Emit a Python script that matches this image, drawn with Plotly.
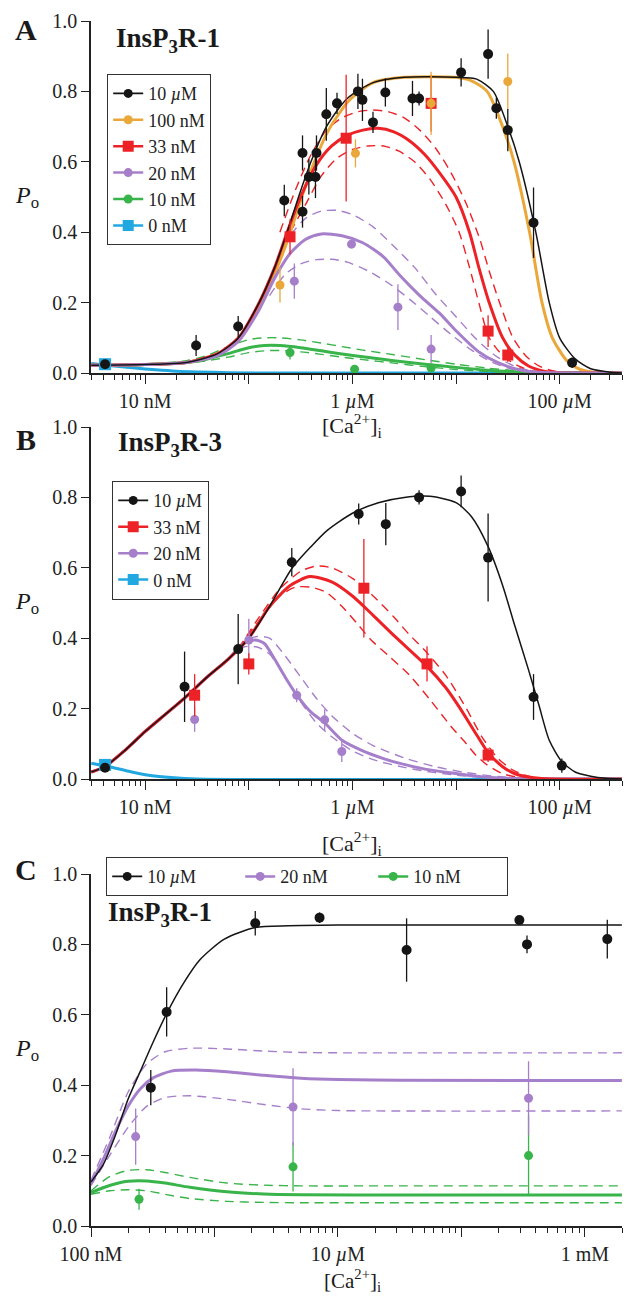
import plotly.graph_objects as go

SERIF = "Liberation Serif, Times New Roman, serif"
BLACK = "#151515"
ORANGE = "#eba83a"
RED = "#ec2227"
PURPLE = "#a67fcb"
GREEN = "#38b44a"
CYAN = "#21a8e1"

# ---------------- Panel A : InsP3R-1 ----------------
# measured points, [Ca2+]i in uM
a_10uM_ca = [0.0041, 0.031, 0.079, 0.22, 0.33, 0.33, 0.38, 0.44, 0.45, 0.56, 0.71, 1.13, 1.25, 1.58, 2.08, 3.8, 4.4, 11.2, 20.4, 24.5, 31.6, 56, 132]
a_10uM_po = [0.025, 0.078, 0.132, 0.49, 0.458, 0.625, 0.557, 0.557, 0.625, 0.735, 0.766, 0.80, 0.776, 0.712, 0.797, 0.78, 0.78, 0.854, 0.906, 0.752, 0.69, 0.427, 0.029]
a_10uM_err = [0.01, 0.03, 0.03, 0.045, 0.045, 0.05, 0.05, 0.06, 0.05, 0.075, 0.03, 0.05, 0.06, 0.03, 0.04, 0.05, 0.02, 0.04, 0.07, 0.03, 0.06, 0.1, 0.015]

a_100nM_ca = [0.2, 1.07, 5.75, 31.6]
a_100nM_po = [0.25, 0.624, 0.766, 0.828]
a_100nM_err = [0.05, 0.04, 0.09, 0.08]

a_33nM_ca = [0.25, 0.87, 5.75, 20.4, 31.6]
a_33nM_po = [0.387, 0.667, 0.766, 0.119, 0.051]
a_33nM_err = [0.05, 0.18, 0.08, 0.045, 0.02]

a_20nM_ca = [0.275, 0.98, 2.75, 5.75]
a_20nM_po = [0.261, 0.366, 0.187, 0.068]
a_20nM_err = [0.05, 0.01, 0.065, 0.04]

a_10nM_ca = [0.25, 1.05, 5.75]
a_10nM_po = [0.058, 0.011, 0.014]
a_10nM_err = [0.02, 0.005, 0.005]

a_0nM_ca = [0.0041]
a_0nM_po = [0.025]
a_0nM_err = [0.006]

# fitted curves, log10 [Ca2+] (M)
a_fit_10uM_lx = [-8.52, -8.0, -7.6, -7.3, -7.1, -6.9, -6.75, -6.63, -6.52, -6.4, -6.25, -6.05, -5.8, -5.5, -5.0, -4.8, -4.64, -4.5, -4.39, -4.23, -4.1, -4.0, -3.85, -3.7, -3.5, -3.4]
a_fit_10uM_po = [0.022, 0.024, 0.03, 0.055, 0.1, 0.2, 0.3, 0.4, 0.5, 0.6, 0.7, 0.78, 0.825, 0.84, 0.84, 0.835, 0.80, 0.70, 0.60, 0.40, 0.20, 0.10, 0.04, 0.012, 0.002, 0.0]

a_fit_100nM_lx = [-8.52, -8.0, -7.6, -7.3, -7.1, -6.9, -6.74, -6.61, -6.5, -6.38, -6.23, -6.03, -5.8, -5.5, -5.0, -4.85, -4.7, -4.55, -4.44, -4.29, -4.17, -4.07, -3.93, -3.8, -3.6, -3.4]
a_fit_100nM_po = [0.022, 0.024, 0.03, 0.052, 0.095, 0.19, 0.29, 0.39, 0.49, 0.59, 0.69, 0.775, 0.825, 0.84, 0.84, 0.83, 0.80, 0.70, 0.60, 0.40, 0.20, 0.10, 0.035, 0.01, 0.0, 0.0]

a_fit_33nM_lx = [-8.52, -8.0, -7.6, -7.3, -7.1, -6.9, -6.75, -6.63, -6.5, -6.35, -6.2, -6.05, -5.9, -5.75, -5.6, -5.45, -5.3, -5.15, -5.0, -4.87, -4.78, -4.68, -4.55, -4.43, -4.3, -4.15, -4.0, -3.4]
a_fit_33nM_po = [0.022, 0.024, 0.03, 0.055, 0.1, 0.2, 0.3, 0.4, 0.5, 0.59, 0.645, 0.675, 0.69, 0.695, 0.685, 0.66, 0.62, 0.565, 0.5, 0.4, 0.3, 0.2, 0.1, 0.05, 0.02, 0.005, 0.001, 0.0]
a_fit_33nM_hi_lx = [-6.7, -6.55, -6.4, -6.25, -6.1, -5.95, -5.8, -5.65, -5.5, -5.35, -5.2, -5.05, -4.9, -4.77, -4.68, -4.58, -4.45, -4.33, -4.2, -4.05, -3.4]
a_fit_33nM_hi_po = [0.4, 0.52, 0.62, 0.69, 0.725, 0.742, 0.747, 0.742, 0.725, 0.69, 0.64, 0.57, 0.48, 0.38, 0.29, 0.2, 0.1, 0.05, 0.02, 0.005, 0.0]
a_fit_33nM_lo_lx = [-6.6, -6.45, -6.3, -6.15, -6.0, -5.85, -5.7, -5.55, -5.4, -5.25, -5.1, -4.97, -4.87, -4.78, -4.68, -4.55, -4.4, -4.25, -4.1, -3.4]
a_fit_33nM_lo_po = [0.4, 0.48, 0.56, 0.61, 0.635, 0.645, 0.645, 0.63, 0.6, 0.55, 0.48, 0.4, 0.3, 0.2, 0.1, 0.05, 0.02, 0.005, 0.001, 0.0]

a_fit_20nM_lx = [-8.52, -8.0, -7.6, -7.3, -7.1, -6.9, -6.75, -6.6, -6.45, -6.3, -6.1, -5.9, -5.7, -5.55, -5.35, -5.16, -5.0, -4.78, -4.6, -4.4, -4.2, -3.4]
a_fit_20nM_po = [0.022, 0.024, 0.03, 0.05, 0.09, 0.18, 0.27, 0.34, 0.38, 0.395, 0.39, 0.37, 0.33, 0.28, 0.22, 0.17, 0.12, 0.06, 0.03, 0.01, 0.002, 0.0]
a_fit_20nM_hi_lx = [-6.9, -6.75, -6.6, -6.45, -6.3, -6.15, -6.0, -5.8, -5.6, -5.4, -5.2, -5.0, -4.8, -4.6, -4.4, -4.2, -3.4]
a_fit_20nM_hi_po = [0.2, 0.3, 0.39, 0.44, 0.46, 0.462, 0.45, 0.415, 0.36, 0.3, 0.225, 0.16, 0.095, 0.045, 0.015, 0.003, 0.0]
a_fit_20nM_lo_lx = [-6.8, -6.65, -6.5, -6.35, -6.2, -6.05, -5.85, -5.65, -5.45, -5.25, -5.05, -4.85, -4.65, -4.45, -4.25, -3.4]
a_fit_20nM_lo_po = [0.22, 0.28, 0.31, 0.322, 0.323, 0.315, 0.29, 0.255, 0.21, 0.16, 0.11, 0.065, 0.03, 0.01, 0.002, 0.0]

a_fit_10nM_lx = [-8.52, -8.0, -7.6, -7.4, -7.2, -7.0, -6.85, -6.7, -6.5, -6.3, -6.1, -5.9, -5.6, -5.3, -5.0, -4.7, -4.4, -4.1, -3.4]
a_fit_10nM_po = [0.022, 0.024, 0.03, 0.04, 0.055, 0.072, 0.078, 0.078, 0.072, 0.063, 0.054, 0.046, 0.035, 0.025, 0.016, 0.008, 0.003, 0.001, 0.0]
a_fit_10nM_hi_po = [0.022, 0.025, 0.035, 0.05, 0.075, 0.095, 0.1, 0.1, 0.094, 0.085, 0.075, 0.065, 0.052, 0.038, 0.025, 0.014, 0.006, 0.002, 0.0]
a_fit_10nM_lo_po = [0.022, 0.023, 0.028, 0.035, 0.045, 0.058, 0.063, 0.064, 0.06, 0.053, 0.045, 0.038, 0.028, 0.018, 0.01, 0.004, 0.001, 0.0, 0.0]

a_fit_0nM_lx = [-8.52, -8.3, -8.1, -7.9, -7.7, -7.5, -7.2, -6.8, -3.4]
a_fit_0nM_po = [0.027, 0.02, 0.014, 0.009, 0.005, 0.003, 0.001, 0.0, 0.0]

# ---------------- Panel B : InsP3R-3 ----------------
b_10uM_ca = [0.0041, 0.024, 0.079, 0.26, 1.15, 2.1, 4.4, 11.2, 20.4, 56, 105]
b_10uM_po = [0.032, 0.262, 0.369, 0.616, 0.753, 0.724, 0.80, 0.817, 0.629, 0.233, 0.038]
b_10uM_err = [0.01, 0.1, 0.1, 0.04, 0.03, 0.06, 0.02, 0.045, 0.125, 0.065, 0.02]

b_33nM_ca = [0.030, 0.1, 1.29, 5.25, 20.4]
b_33nM_po = [0.238, 0.327, 0.542, 0.327, 0.068]
b_33nM_err = [0.06, 0.03, 0.14, 0.05, 0.02]

b_20nM_ca = [0.030, 0.1, 0.29, 0.54, 0.79]
b_20nM_po = [0.169, 0.395, 0.238, 0.168, 0.078]
b_20nM_err = [0.035, 0.06, 0.02, 0.03, 0.03]

b_0nM_ca = [0.0041]
b_0nM_po = [0.04]
b_0nM_err = [0.008]

b_fit_10uM_lx = [-8.52, -8.39, -8.2, -8.0, -7.8, -7.62, -7.4, -7.2, -7.0, -6.8, -6.58, -6.4, -6.24, -6.0, -5.75, -5.5, -5.25, -5.0, -4.85, -4.69, -4.55, -4.43, -4.3, -4.2, -4.1, -3.98, -3.85, -3.7, -3.55, -3.4]
b_fit_10uM_po = [0.02, 0.035, 0.08, 0.135, 0.185, 0.23, 0.29, 0.34, 0.40, 0.49, 0.60, 0.66, 0.707, 0.755, 0.785, 0.80, 0.803, 0.785, 0.745, 0.66, 0.55, 0.433, 0.31, 0.21, 0.11, 0.05, 0.02, 0.008, 0.002, 0.0]

b_fit_33nM_lx = [-8.52, -8.39, -8.2, -8.0, -7.8, -7.62, -7.4, -7.2, -7.0, -6.8, -6.6, -6.41, -6.2, -6.0, -5.8, -5.59, -5.28, -5.1, -4.97, -4.8, -4.69, -4.55, -4.43, -4.2, -3.4]
b_fit_33nM_po = [0.02, 0.035, 0.08, 0.135, 0.185, 0.23, 0.29, 0.34, 0.40, 0.49, 0.55, 0.575, 0.56, 0.52, 0.465, 0.405, 0.32, 0.26, 0.205, 0.125, 0.075, 0.035, 0.015, 0.002, 0.0]
b_fit_33nM_hi_lx = [-7.1, -6.9, -6.7, -6.5, -6.35, -6.2, -6.0, -5.8, -5.6, -5.45, -5.3, -5.1, -4.9, -4.75, -4.6, -4.45, -4.3, -4.1, -3.4]
b_fit_33nM_hi_po = [0.37, 0.46, 0.54, 0.59, 0.605, 0.6, 0.57, 0.52, 0.46, 0.41, 0.365, 0.295, 0.2, 0.12, 0.06, 0.025, 0.008, 0.001, 0.0]
b_fit_33nM_lo_lx = [-7.1, -6.9, -6.7, -6.55, -6.4, -6.25, -6.1, -5.95, -5.82, -5.65, -5.45, -5.25, -5.05, -4.9, -4.81, -4.7, -4.55, -4.4, -4.2, -3.4]
b_fit_33nM_lo_po = [0.37, 0.45, 0.52, 0.545, 0.545, 0.53, 0.49, 0.44, 0.395, 0.35, 0.295, 0.225, 0.15, 0.1, 0.068, 0.04, 0.015, 0.005, 0.001, 0.0]

b_fit_20nM_lx = [-8.52, -8.39, -8.2, -8.0, -7.8, -7.62, -7.4, -7.2, -7.05, -6.94, -6.85, -6.75, -6.65, -6.54, -6.4, -6.27, -6.1, -5.9, -5.7, -5.55, -5.3, -5.04, -4.8, -4.5, -4.2, -3.4]
b_fit_20nM_po = [0.02, 0.035, 0.08, 0.135, 0.185, 0.23, 0.29, 0.34, 0.385, 0.395, 0.385, 0.34, 0.29, 0.24, 0.19, 0.16, 0.11, 0.08, 0.058, 0.045, 0.028, 0.017, 0.008, 0.002, 0.0, 0.0]
b_fit_20nM_band_lx = [-7.2, -7.05, -6.92, -6.8, -6.65, -6.5, -6.35, -6.2, -6.0, -5.8, -5.5, -5.2, -4.9, -4.6, -4.3, -3.4]
b_fit_20nM_hi_po = [0.34, 0.39, 0.405, 0.4, 0.35, 0.29, 0.23, 0.18, 0.13, 0.095, 0.06, 0.035, 0.018, 0.007, 0.002, 0.0]
b_fit_20nM_lo_po = [0.34, 0.375, 0.375, 0.355, 0.29, 0.22, 0.16, 0.12, 0.08, 0.055, 0.033, 0.018, 0.008, 0.003, 0.001, 0.0]

b_fit_0nM_lx = [-8.52, -8.35, -8.13, -7.95, -7.75, -7.5, -3.4]
b_fit_0nM_po = [0.045, 0.035, 0.02, 0.01, 0.004, 0.0, 0.0]

# ---------------- Panel C : InsP3R-1 ----------------
c_10uM_ca = [0.305, 0.41, 2.14, 7.1, 36, 295, 340, 1520]
c_10uM_po = [0.393, 0.608, 0.86, 0.876, 0.784, 0.869, 0.80, 0.815]
c_10uM_err = [0.05, 0.07, 0.035, 0.015, 0.09, 0.01, 0.025, 0.055]

c_20nM_ca = [0.23, 4.33, 350]
c_20nM_po = [0.254, 0.338, 0.363]
c_20nM_err = [0.08, 0.11, 0.105]

c_10nM_ca = [0.245, 4.33, 350]
c_10nM_po = [0.076, 0.168, 0.20]
c_10nM_err = [0.03, 0.07, 0.115]

c_fit_10uM_lx = [-7.0, -6.9, -6.8, -6.7, -6.6, -6.5, -6.385, -6.25, -6.116, -5.92, -5.67, -5.4, -5.0, -2.7]
c_fit_10uM_po = [0.125, 0.175, 0.26, 0.36, 0.44, 0.52, 0.605, 0.69, 0.757, 0.815, 0.848, 0.853, 0.855, 0.855]

c_fit_20nM_lx = [-7.0, -6.9, -6.8, -6.7, -6.6, -6.5, -6.35, -6.15, -5.9, -5.6, -5.3, -5.0, -4.5, -2.7]
c_fit_20nM_po = [0.12, 0.19, 0.27, 0.34, 0.39, 0.42, 0.44, 0.443, 0.438, 0.428, 0.42, 0.416, 0.414, 0.413]
c_fit_20nM_band_lx = [-7.0, -6.85, -6.7, -6.55, -6.4, -6.2, -5.9, -5.6, -5.3, -5.0, -2.7]
c_fit_20nM_hi_po = [0.13, 0.25, 0.38, 0.46, 0.495, 0.505, 0.503, 0.497, 0.493, 0.492, 0.492]
c_fit_20nM_lo_po = [0.115, 0.2, 0.28, 0.34, 0.365, 0.37, 0.36, 0.345, 0.333, 0.328, 0.327]

c_fit_10nM_lx = [-7.0, -6.85, -6.7, -6.55, -6.4, -6.2, -5.9, -5.6, -5.3, -4.5, -2.7]
c_fit_10nM_po = [0.095, 0.115, 0.127, 0.128, 0.122, 0.11, 0.097, 0.091, 0.089, 0.088, 0.088]
c_fit_10nM_hi_po = [0.10, 0.14, 0.158, 0.16, 0.152, 0.138, 0.122, 0.116, 0.114, 0.114, 0.114]
c_fit_10nM_lo_po = [0.09, 0.1, 0.103, 0.1, 0.09, 0.078, 0.07, 0.067, 0.066, 0.066, 0.066]


def um(lx):
    """log10 molar -> micromolar"""
    return [10 ** (v + 6) for v in lx]


fig = go.Figure()
AX = {"A": ("x", "y"), "B": ("x2", "y2"), "C": ("x3", "y3")}


def curve(panel, lx, po, color, width, dash=None):
    xa, ya = AX[panel]
    fig.add_trace(go.Scatter(
        x=um(lx), y=po, mode="lines", xaxis=xa, yaxis=ya, showlegend=False,
        line=dict(color=color, width=width, shape="spline", smoothing=0.7,
                  dash=dash if dash else "solid"),
        hoverinfo="skip"))


def points(panel, ca, po, err, color, symbol="circle", size=9):
    xa, ya = AX[panel]
    fig.add_trace(go.Scatter(
        x=ca, y=po, mode="markers", xaxis=xa, yaxis=ya, showlegend=False,
        marker=dict(color=color, symbol=symbol, size=size, line=dict(width=0)),
        error_y=dict(type="data", array=err, color=color, thickness=1.3, width=0),
        cliponaxis=False))


def key(legend, name, color, symbol="circle", size=9):
    fig.add_trace(go.Scatter(
        x=[None], y=[None], mode="lines+markers", name=name, legend=legend,
        line=dict(color=color, width=2.5 if color != BLACK else 1.6),
        marker=dict(color=color, symbol=symbol, size=size)))


DASH = "9px,6px"

# ---- panel A curves
curve("A", a_fit_0nM_lx, a_fit_0nM_po, CYAN, 3)
curve("A", a_fit_10nM_lx, a_fit_10nM_hi_po, GREEN, 1.4, DASH)
curve("A", a_fit_10nM_lx, a_fit_10nM_lo_po, GREEN, 1.4, DASH)
curve("A", a_fit_20nM_hi_lx, a_fit_20nM_hi_po, PURPLE, 1.4, DASH)
curve("A", a_fit_20nM_lo_lx, a_fit_20nM_lo_po, PURPLE, 1.4, DASH)
curve("A", a_fit_33nM_hi_lx, a_fit_33nM_hi_po, RED, 1.4, DASH)
curve("A", a_fit_33nM_lo_lx, a_fit_33nM_lo_po, RED, 1.4, DASH)
curve("A", a_fit_10nM_lx, a_fit_10nM_po, GREEN, 3)
curve("A", a_fit_100nM_lx, a_fit_100nM_po, ORANGE, 3)
curve("A", a_fit_33nM_lx, a_fit_33nM_po, RED, 3)
curve("A", a_fit_20nM_lx, a_fit_20nM_po, PURPLE, 3)
curve("A", a_fit_10uM_lx, a_fit_10uM_po, BLACK, 1.5)

points("A", a_0nM_ca, a_0nM_po, a_0nM_err, CYAN, "square", 12)
points("A", a_10nM_ca, a_10nM_po, a_10nM_err, GREEN)
points("A", a_20nM_ca, a_20nM_po, a_20nM_err, PURPLE)
points("A", a_33nM_ca, a_33nM_po, a_33nM_err, RED, "square", 11)
points("A", a_100nM_ca, a_100nM_po, a_100nM_err, ORANGE)
points("A", a_10uM_ca, a_10uM_po, a_10uM_err, BLACK, "circle", 10)

# ---- panel B curves
curve("B", b_fit_0nM_lx, b_fit_0nM_po, CYAN, 3)
curve("B", b_fit_20nM_band_lx, b_fit_20nM_hi_po, PURPLE, 1.4, DASH)
curve("B", b_fit_20nM_band_lx, b_fit_20nM_lo_po, PURPLE, 1.4, DASH)
curve("B", b_fit_33nM_hi_lx, b_fit_33nM_hi_po, RED, 1.4, DASH)
curve("B", b_fit_33nM_lo_lx, b_fit_33nM_lo_po, RED, 1.4, DASH)
curve("B", b_fit_20nM_lx, b_fit_20nM_po, PURPLE, 3)
curve("B", b_fit_33nM_lx, b_fit_33nM_po, RED, 3)
curve("B", b_fit_10uM_lx, b_fit_10uM_po, BLACK, 1.5)

points("B", b_0nM_ca, b_0nM_po, b_0nM_err, CYAN, "square", 12)
points("B", b_20nM_ca, b_20nM_po, b_20nM_err, PURPLE)
points("B", b_33nM_ca, b_33nM_po, b_33nM_err, RED, "square", 11)
points("B", b_10uM_ca, b_10uM_po, b_10uM_err, BLACK, "circle", 10)

# ---- panel C curves
curve("C", c_fit_10nM_lx, c_fit_10nM_hi_po, GREEN, 1.4, DASH)
curve("C", c_fit_10nM_lx, c_fit_10nM_lo_po, GREEN, 1.4, DASH)
curve("C", c_fit_20nM_band_lx, c_fit_20nM_hi_po, PURPLE, 1.4, DASH)
curve("C", c_fit_20nM_band_lx, c_fit_20nM_lo_po, PURPLE, 1.4, DASH)
curve("C", c_fit_10nM_lx, c_fit_10nM_po, GREEN, 3)
curve("C", c_fit_20nM_lx, c_fit_20nM_po, PURPLE, 3)
curve("C", c_fit_10uM_lx, c_fit_10uM_po, BLACK, 1.5)

points("C", c_10nM_ca, c_10nM_po, c_10nM_err, GREEN)
points("C", c_20nM_ca, c_20nM_po, c_20nM_err, PURPLE)
points("C", c_10uM_ca, c_10uM_po, c_10uM_err, BLACK, "circle", 10)

# ---- legend keys
key("legend", "10 <i>µ</i>M", BLACK)
key("legend", "100 nM", ORANGE)
key("legend", "33 nM", RED, "square", 11)
key("legend", "20 nM", PURPLE)
key("legend", "10 nM", GREEN)
key("legend", "0 nM", CYAN, "square", 11)

key("legend2", "10 <i>µ</i>M", BLACK)
key("legend2", "33 nM", RED, "square", 11)
key("legend2", "20 nM", PURPLE)
key("legend2", "0 nM", CYAN, "square", 11)

key("legend3", "10 <i>µ</i>M", BLACK)
key("legend3", "20 nM", PURPLE)
key("legend3", "10 nM", GREEN)

# ---------------- layout ----------------
W, H = 626, 1297


def px_y(y):
    return 1 - y / H


tick_font = dict(family=SERIF, size=20, color="#222")


def yaxis(top, bottom, anchor):
    return dict(domain=[px_y(bottom), px_y(top)], range=[0, 1.0], anchor=anchor,
                tickvals=[0, 0.2, 0.4, 0.6, 0.8, 1.0], ticktext=["0.0", "0.2", "0.4", "0.6", "0.8", "1.0"],
                ticks="outside", ticklen=8, tickwidth=1.3, tickcolor="#222",
                showline=True, linecolor="#222", linewidth=1.5, showgrid=False, zeroline=False,
                tickfont=tick_font)


def minor_vals(lo, hi):
    out = []
    for e in range(lo, hi + 1):
        for m in range(2, 10):
            out.append(m * 10.0 ** e)
    return out


def xaxis(rng, majors, labels, anchor, mlo, mhi):
    return dict(domain=[91 / W, 622 / W], type="log", range=rng, anchor=anchor,
                tickvals=majors, ticktext=labels, ticks="outside", ticklen=9, tickwidth=1.3,
                tickcolor="#222", showline=True, linecolor="#222", linewidth=1.5,
                showgrid=False, zeroline=False, tickfont=tick_font,
                minor=dict(tickvals=minor_vals(mlo, mhi), ticks="outside", ticklen=5,
                           tickwidth=1.1, tickcolor="#222", showgrid=False))


ab_majors = [0.01, 0.1, 1, 10, 100]
ab_labels = ["10 nM", " ", "1 <i>µ</i>M", " ", "100 <i>µ</i>M"]
c_majors = [0.1, 1, 10, 100, 1000]
c_labels = ["100 nM", " ", "10 <i>µ</i>M", " ", "1 mM"]

legend_common = dict(bgcolor="white", bordercolor="#333", borderwidth=1.2,
                     font=dict(family=SERIF, size=18, color="#222"),
                     xanchor="left", yanchor="top", itemsizing="trace")

C_TOP, C_BOT = 874, 1226

fig.update_layout(
    width=W, height=H, margin=dict(l=0, r=0, t=0, b=0, autoexpand=False),
    paper_bgcolor="white", plot_bgcolor="white",
    xaxis=xaxis([-2.523, 2.602], ab_majors, ab_labels, "y", -3, 2),
    yaxis=yaxis(21, 373, "x"),
    xaxis2=xaxis([-2.523, 2.602], ab_majors, ab_labels, "y2", -3, 2),
    yaxis2=yaxis(427, 779, "x2"),
    xaxis3=xaxis([-1, 3.301], c_majors, c_labels, "y3", -1, 3),
    yaxis3=yaxis(C_TOP, C_BOT, "x3"),
    legend=dict(x=107 / W, y=px_y(74), **legend_common),
    legend2=dict(x=112 / W, y=px_y(481), **legend_common),
    legend3=dict(x=106 / W, y=px_y(857), orientation="h", entrywidth=88,
                 entrywidthmode="pixels", **legend_common),
)

ann = []


def text(x, y, s, size, xanchor="center"):
    ann.append(dict(x=x / W, y=px_y(y), xref="paper", yref="paper", text=s, showarrow=False,
                    xanchor=xanchor, yanchor="middle",
                    font=dict(family=SERIF, size=size, color="#1a1a1a")))


for letter, yy in (("<b>A</b>", 30), ("<b>B</b>", 439), ("<b>C</b>", 869)):
    text(26, yy, letter, 30)
text(114, 40, "<b>InsP<sub>3</sub>R-1</b>", 27, xanchor="left")
text(116, 444, "<b>InsP<sub>3</sub>R-3</b>", 27, xanchor="left")
text(106, 914, "<b>InsP<sub>3</sub>R-1</b>", 27, xanchor="left")

po_title = "<i>P</i><sub>o</sub>"
text(27, 197, po_title, 24)
text(27, 603, po_title, 24)
text(27, 1050, po_title, 24)

ca_title = "[Ca<sup>2+</sup>]<sub>i</sub>"
text(352, 425, ca_title, 22)
text(352, 843, ca_title, 22)
text(352, 1280, ca_title, 21)

fig.update_layout(annotations=ann)

fig.write_html("out.html")
